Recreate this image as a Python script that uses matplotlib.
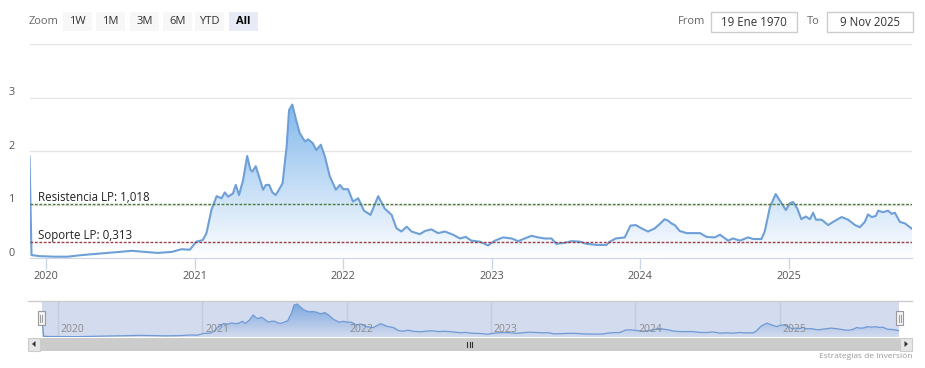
import numpy as np
import pandas as pd
import matplotlib
matplotlib.use("Agg")
import matplotlib.pyplot as plt
import matplotlib.dates as mdates
from matplotlib.colors import LinearSegmentedColormap
from matplotlib.patches import Rectangle, Polygon
from matplotlib.lines import Line2D
from matplotlib.transforms import Affine2D, offset_copy

plt.rcParams['font.family'] = ['Open Sans', 'DejaVu Sans']

# --- data ---
fechas = [
    "2019-11-22", "2019-11-27", "2019-12-17", "2020-01-23", "2020-02-24", "2020-03-29",
    "2020-06-01", "2020-07-01", "2020-07-30", "2020-08-31", "2020-10-02", "2020-11-06",
    "2020-11-30", "2020-12-20", "2021-01-05", "2021-01-21", "2021-01-30", "2021-02-11",
    "2021-02-24", "2021-03-08", "2021-03-16", "2021-03-24", "2021-04-05", "2021-04-12",
    "2021-04-20", "2021-04-30", "2021-05-10", "2021-05-18", "2021-05-23", "2021-05-31",
    "2021-06-08", "2021-06-18", "2021-06-25", "2021-07-03", "2021-07-11", "2021-07-19",
    "2021-07-27", "2021-08-05", "2021-08-15", "2021-08-21", "2021-08-29", "2021-09-07",
    "2021-09-16", "2021-09-29", "2021-10-07", "2021-10-18", "2021-10-27", "2021-11-07",
    "2021-11-17", "2021-11-29", "2021-12-14", "2021-12-24", "2022-01-01", "2022-01-13",
    "2022-01-25", "2022-02-07", "2022-02-21", "2022-03-09", "2022-03-28", "2022-04-13",
    "2022-04-30", "2022-05-12", "2022-05-24", "2022-06-06", "2022-06-18", "2022-07-08",
    "2022-07-21", "2022-08-06", "2022-08-22", "2022-09-08", "2022-09-28", "2022-10-15",
    "2022-10-29", "2022-11-12", "2022-12-03", "2022-12-23", "2023-01-09", "2023-01-29",
    "2023-02-19", "2023-03-07", "2023-03-23", "2023-04-09", "2023-04-25", "2023-05-12",
    "2023-05-28", "2023-06-09", "2023-06-30", "2023-07-16", "2023-08-06", "2023-08-22",
    "2023-09-16", "2023-10-10", "2023-10-18", "2023-11-02", "2023-11-24", "2023-12-08",
    "2023-12-21", "2024-01-04", "2024-01-20", "2024-02-06", "2024-02-18", "2024-03-01",
    "2024-03-10", "2024-03-18", "2024-03-26", "2024-04-07", "2024-04-24", "2024-05-10",
    "2024-05-27", "2024-06-12", "2024-07-02", "2024-07-15", "2024-08-04", "2024-08-16",
    "2024-09-02", "2024-09-22", "2024-10-05", "2024-10-25", "2024-11-02", "2024-11-15",
    "2024-11-29", "2024-12-13", "2024-12-24", "2025-01-03", "2025-01-11", "2025-01-21",
    "2025-01-31", "2025-02-11", "2025-02-21", "2025-03-01", "2025-03-08", "2025-03-22",
    "2025-04-07", "2025-04-19", "2025-05-10", "2025-05-26", "2025-06-12", "2025-06-24",
    "2025-07-06", "2025-07-14", "2025-07-23", "2025-08-02", "2025-08-08", "2025-08-20",
    "2025-09-01", "2025-09-10", "2025-09-18", "2025-09-30", "2025-10-13", "2025-10-25",
    "2025-10-30",
]
valores = [
    1.90, 0.06, 0.04, 0.03, 0.03, 0.06,
    0.10, 0.12, 0.14, 0.12, 0.10, 0.12,
    0.17, 0.16, 0.31, 0.34, 0.47, 0.90,
    1.16, 1.12, 1.23, 1.15, 1.21, 1.37,
    1.18, 1.46, 1.91, 1.65, 1.62, 1.72,
    1.53, 1.28, 1.37, 1.37, 1.23, 1.18,
    1.28, 1.40, 2.09, 2.77, 2.87, 2.59,
    2.34, 2.18, 2.22, 2.15, 2.02, 2.12,
    1.90, 1.53, 1.28, 1.37, 1.29, 1.29,
    1.06, 1.12, 0.89, 0.81, 1.16, 0.93,
    0.81, 0.56, 0.50, 0.59, 0.50, 0.45,
    0.51, 0.54, 0.47, 0.50, 0.44, 0.37,
    0.40, 0.33, 0.31, 0.24, 0.33, 0.39,
    0.37, 0.32, 0.37, 0.42, 0.39, 0.37,
    0.37, 0.27, 0.29, 0.32, 0.31, 0.27,
    0.25, 0.25, 0.31, 0.37, 0.39, 0.61,
    0.62, 0.56, 0.50, 0.56, 0.64, 0.73,
    0.70, 0.65, 0.62, 0.51, 0.47, 0.47,
    0.47, 0.40, 0.39, 0.44, 0.33, 0.37,
    0.33, 0.39, 0.36, 0.36, 0.50, 0.96,
    1.20, 1.03, 0.90, 1.03, 1.05, 0.93,
    0.73, 0.78, 0.73, 0.85, 0.72, 0.72,
    0.62, 0.68, 0.77, 0.72, 0.62, 0.58,
    0.68, 0.82, 0.77, 0.79, 0.89, 0.86,
    0.89, 0.83, 0.85, 0.68, 0.65, 0.58,
    0.55,
]
resistencia = 1.018
soporte = 0.313
y_ticks = [0, 1, 2, 3]
grid_y = [1, 2, 3, 4]
years = ["2020", "2021", "2022", "2023", "2024", "2025"]
zoom_buttons = ["1W", "1M", "3M", "6M", "YTD", "All"]
desde = "19 Ene 1970"
hasta = "9 Nov 2025"

W, H = 925, 368
fig = plt.figure(figsize=(W / 100, H / 100), dpi=100)
# pixel coords of the picture (y down) -> figure
pix = Affine2D().scale(1 / W, -1 / H).translate(0, 1) + fig.transFigure


def axes_box(x0, y0, x1, y1):
    return [x0 / W, 1 - y1 / H, (x1 - x0) / W, (y1 - y0) / H]


t = mdates.date2num(pd.to_datetime(fechas))
v = np.array(valores)
year_pos = mdates.date2num(pd.to_datetime([y + "-01-01" for y in years]))

blue = "#7cb5ec"
line_col = "#6ea0d7"
grad_cmap = LinearSegmentedColormap.from_list("g", ["#ffffff", blue])

# --- main chart ---
ax = fig.add_axes(axes_box(29.5, 44, 912, 258.3))
ax.set_facecolor("none")
for s in ["top", "right", "left"]:
    ax.spines[s].set_visible(False)
ax.spines["bottom"].set_color("#ccd6eb")

for g in grid_y:
    ax.axhline(g, color="#e6e6e6", lw=1, zorder=0)

grad = np.linspace(0, 1, 256).reshape(-1, 1)
im = ax.imshow(grad, extent=[t[0], t[-1], 0, v.max()], origin="lower",
               aspect="auto", cmap=grad_cmap, zorder=1, alpha=0.95)
area = ax.fill_between(t, v, 0, color="none", lw=0)
im.set_clip_path(area.get_paths()[0], transform=ax.transData)
ax.plot(t, v, color=line_col, lw=1.5, zorder=3, solid_joinstyle="round")

ax.axhline(resistencia, color="#4d7a3e", ls=(0, (2, 1.2)), lw=1, zorder=4)
ax.axhline(soporte, color="#9c3c45", ls=(0, (2, 1.2)), lw=1, zorder=4)
lab_tr = offset_copy(ax.get_yaxis_transform(), fig=fig, x=0, y=3, units="dots")
ax.text(0.0096, resistencia, "Resistencia LP: " + f"{resistencia:.3f}".replace(".", ","),
        transform=lab_tr, fontsize=8.3, color="#222222", va="baseline", ha="left", zorder=5)
ax.text(0.0096, soporte, "Soporte LP: " + f"{soporte:.3f}".replace(".", ","),
        transform=lab_tr, fontsize=8.3, color="#222222", va="baseline", ha="left", zorder=5)

ax.set_xlim(t[0], t[-1])
ax.set_ylim(0, 4)
ax.set_yticks([])
ax.set_xticks(year_pos)
ax.set_xticklabels(years)
ax.tick_params(axis="x", length=8, width=1, color="#ccd6eb", labelcolor="#555555",
               labelsize=7.8, pad=1.5)

ytr = offset_copy(ax.get_yaxis_transform(), fig=fig, x=0, y=5, units="dots")
for yv in y_ticks:
    ax.text(-0.0198, yv, str(yv), transform=ytr, fontsize=7.8, color="#555555",
            ha="center", va="center", clip_on=False)

# --- navigator ---
nav = fig.add_axes(axes_box(41.7, 301, 899.3, 337))
nav.set_facecolor("#d3dbee")
for s in nav.spines.values():
    s.set_visible(False)
nav.set_xlim(t[0], t[-1])
nav.set_ylim(0, v.max() * 1.09)
nav.set_xticks([])
nav.set_yticks([])
for xp, yr in zip(year_pos, years):
    nav.axvline(xp, color="#c3cadb", lw=1, zorder=0)
    nav.text(xp, 0.22, yr, transform=offset_copy(nav.get_xaxis_transform(), fig=fig, x=3, y=0, units="dots"),
             fontsize=7.5, color="#8a8a8a", ha="left", va="center", zorder=5)
nav_cmap = LinearSegmentedColormap.from_list("n", ["#d3dbee", "#7aa7e0"])
im2 = nav.imshow(grad, extent=[t[0], t[-1], 0, v.max()], origin="lower",
                 aspect="auto", cmap=nav_cmap, zorder=1)
area2 = nav.fill_between(t, v, 0, color="none", lw=0)
im2.set_clip_path(area2.get_paths()[0], transform=nav.transData)
nav.plot(t, v, color="#6f9ad6", lw=0.9, zorder=3)
nav.set_xlim(t[0], t[-1])
nav.set_ylim(0, v.max() * 1.09)

fig.add_artist(Line2D([28, 912], [301, 301], color="#cccccc", lw=1, transform=pix))

# navigator handles
for hx in [37.5, 896]:
    fig.add_artist(Rectangle((hx, 311), 7, 14, facecolor="#f2f2f2", edgecolor="#999999",
                             lw=0.8, transform=pix, zorder=6))
    for gx in [hx + 2.5, hx + 4.5]:
        fig.add_artist(Line2D([gx, gx], [314.5, 321.5], color="#999999", lw=0.7,
                              transform=pix, zorder=7))

# scrollbar
fig.add_artist(Rectangle((28, 337.5), 884, 13, facecolor="#f2f2f2", edgecolor="none", transform=pix))
fig.add_artist(Rectangle((40, 337.5), 860, 13, facecolor="#cccccc", edgecolor="none", transform=pix))
for bx in [28, 900]:
    fig.add_artist(Rectangle((bx, 337.5), 12, 13, facecolor="#e6e6e6", edgecolor="#cccccc",
                             lw=0.8, transform=pix))
fig.add_artist(Polygon([[35.5, 341], [32, 344], [35.5, 347]], closed=True, facecolor="#333333",
                       edgecolor="none", transform=pix))
fig.add_artist(Polygon([[904.5, 341], [908, 344], [904.5, 347]], closed=True, facecolor="#333333",
                       edgecolor="none", transform=pix))
for gx in [467, 469.5, 472]:
    fig.add_artist(Line2D([gx, gx], [341.5, 346.5], color="#333333", lw=0.8, transform=pix))

fig.text(912, 356, "Estrategias de Inversi\u00f3n", transform=pix, ha="right", va="center",
         fontsize=6, color="#999999")

# --- range selector header ---
fig.text(29, 21.5, "Zoom", transform=pix, ha="left", va="center", fontsize=8, color="#666666")
btn_x = [63, 96, 130, 163, 195, 229]
for bx, lab in zip(btn_x, zoom_buttons):
    sel = lab == "All"
    fig.add_artist(Rectangle((bx, 12), 29, 19, facecolor="#e6ebf5" if sel else "#f7f7f7",
                             edgecolor="none", transform=pix))
    fig.text(bx + 14.5, 21.5, lab, transform=pix, ha="center", va="center", fontsize=8,
             color="#000000" if sel else "#333333", fontweight="bold" if sel else "normal")

fig.text(678, 21.5, "From", transform=pix, ha="left", va="center", fontsize=8, color="#666666")
fig.text(807, 21.5, "To", transform=pix, ha="left", va="center", fontsize=8, color="#666666")
for x0, x1, txt in [(711, 797, desde), (827, 913, hasta)]:
    fig.add_artist(Rectangle((x0, 12), x1 - x0, 20, facecolor="white", edgecolor="#cccccc",
                             lw=1, transform=pix))
    fig.text((x0 + x1) / 2, 22, txt, transform=pix, ha="center", va="center", fontsize=8.3,
             color="#333333")

fig.savefig("out.png", dpi=100, facecolor="white")
